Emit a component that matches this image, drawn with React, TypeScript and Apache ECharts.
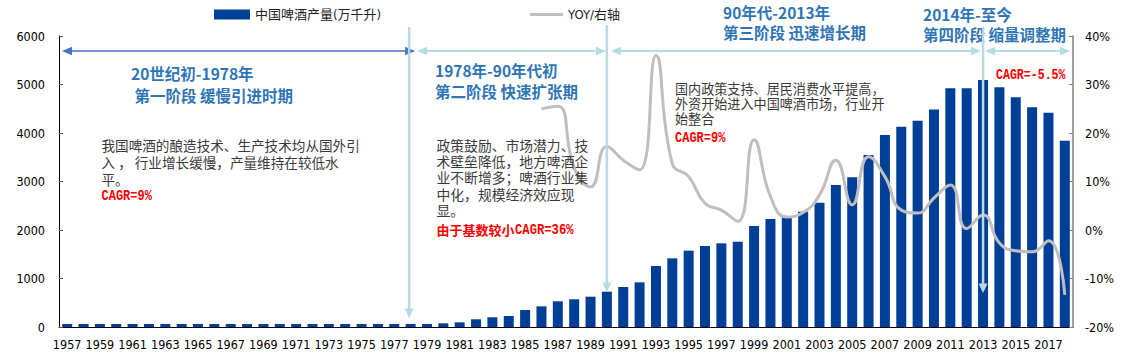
import React, { useEffect, useRef } from "react";
import * as echarts from "echarts";

const years = [
  "1957", "1958", "1959", "1960", "1961", "1962", "1963", "1964", "1965", "1966",
  "1967", "1968", "1969", "1970", "1971", "1972", "1973", "1974", "1975", "1976",
  "1977", "1978", "1979", "1980", "1981", "1982", "1983", "1984", "1985", "1986",
  "1987", "1988", "1989", "1990", "1991", "1992", "1993", "1994", "1995", "1996",
  "1997", "1998", "1999", "2000", "2001", "2002", "2003", "2004", "2005", "2006",
  "2007", "2008", "2009", "2010", "2011", "2012", "2013", "2014", "2015", "2016",
  "2017", "2018",
];

// 中国啤酒产量 (万千升)
const production = [
  4, 5, 6, 6, 5, 4, 4, 5, 6, 7,
  8, 9, 9, 10, 12, 13, 14, 15, 17, 18,
  22, 40, 60, 76, 97, 159, 200, 227, 350, 426,
  530, 571, 625, 728, 825, 921, 1258, 1416, 1574, 1670,
  1725, 1759, 2082, 2227, 2290, 2377, 2563, 2928, 3086, 3546,
  3959, 4130, 4254, 4487, 4922, 4922, 5093, 4942, 4736, 4530,
  4419, 3841,
];

// YOY (%)
const yoy = [
  null, null, null, null, null, null, null, null, null, null,
  null, null, null, null, null, null, null, null, null, null,
  null, null, null, null, null, null, null, null, null, 25,
  25.5, 12.8, 8.9, 17.2, 14.4, 12.4, 36, 13.7, 11, 5.5,
  4.1, 1.8, 18.6, 6.9, 2.7, 3.6, 7.2, 14.4, 5.2, 15.1,
  11, 4.1, 3.5, 6.6, 9.3, 0.3, 3.1, -2.7, -4.3, -4.5,
  -2.2, -13.4,
];

const leftTicks = { min: 0, max: 6000, interval: 1000 };
const rightTicks = { min: -20, max: 40, interval: 10 };

const SERIES_BAR = "中国啤酒产量(万千升)";
const SERIES_LINE = "YOY/右轴";

const stageTitles = [
  { lines: ["20世纪初-1978年", " 第一阶段 缓慢引进时期"], x: 131, y: [73, 95] },
  { lines: ["1978年-90年代初", "第二阶段 快速扩张期"], x: 435, y: [70, 91] },
  { lines: ["90年代-2013年", "第三阶段 迅速增长期"], x: 723, y: [12, 32] },
  { lines: ["2014年-至今", "第四阶段 缩量调整期"], x: 923, y: [13.5, 33.5] },
];

const notes = [
  {
    lines: ["我国啤酒的酿造技术、生产技术均从国外引", "入 ， 行业增长缓慢，产量维持在较低水", "平。"],
    x: 101.5, y0: 145, lh: 17, size: 13.6,
  },
  {
    lines: ["政策鼓励、市场潜力、技", "术壁垒降低，地方啤酒企", "业不断增多；啤酒行业集", "中化，规模经济效应现", "显。"],
    x: 436.5, y0: 145, lh: 16.2, size: 13.8,
  },
  {
    lines: ["国内政策支持、居民消费水平提高，", "外资开始进入中国啤酒市场，行业开", "始整合"],
    x: 675, y0: 88.3, lh: 15, size: 13.1,
  },
];

const TITLE_COLOR = "#2F75B5";
const PALE = "#B5DDE1";
const DARK_ARROW = "#4472C4";
const SANS = "'DejaVu Sans Condensed', 'DejaVu Sans', 'Noto Sans CJK SC', sans-serif";
const CJK = "'Noto Sans CJK SC', sans-serif";
const MONO = "'Liberation Mono', 'DejaVu Sans Mono', monospace";

function hArrow(x1: number, x2: number, y: number, color: string, lw: number) {
  const hl = 10, hw = 8.5;
  return [
    { type: "line", z: 100, shape: { x1: x1 + hl - 1, y1: y, x2: x2 - hl + 1, y2: y }, style: { stroke: color, lineWidth: lw } },
    { type: "polygon", z: 100, shape: { points: [[x1, y], [x1 + hl, y - hw / 2], [x1 + hl, y + hw / 2]] }, style: { fill: color } },
    { type: "polygon", z: 100, shape: { points: [[x2, y], [x2 - hl, y - hw / 2], [x2 - hl, y + hw / 2]] }, style: { fill: color } },
  ];
}

function vArrow(x: number, y1: number, y2: number, color: string, lw: number) {
  const hl = 9.5, hw = 9;
  return [
    { type: "line", z: 101, shape: { x1: x, y1, x2: x, y2: y2 - hl + 1 }, style: { stroke: color, lineWidth: lw } },
    { type: "polygon", z: 101, shape: { points: [[x, y2], [x - hw / 2, y2 - hl], [x + hw / 2, y2 - hl]] }, style: { fill: color } },
  ];
}

function txt(text: string, x: number, y: number, fill: string, size: number, family: string, weight: string = "normal", extra: any = {}) {
  return {
    type: "text",
    z: 102,
    x,
    y,
    ...extra,
    style: { text, fill, fontSize: size, fontFamily: family, fontWeight: weight, align: "left", verticalAlign: "middle" },
  };
}

function block(lines: string[], x: number, yFirst: number, lh: number, fill: string, size: number) {
  return {
    type: "text",
    z: 102,
    x,
    y: yFirst - lh / 2,
    style: {
      text: lines.join("\n"),
      fill,
      fontSize: size,
      fontFamily: CJK,
      lineHeight: lh,
      align: "left",
      verticalAlign: "top",
    },
  };
}

export default function App() {
  const ref = useRef<HTMLDivElement>(null);

  useEffect(() => {
    if (!ref.current) return;
    const chart = echarts.init(ref.current, null, { renderer: "svg" });
    const option: any = {
      animation: false,
      backgroundColor: "#ffffff",
      grid: { left: 59, right: 75, top: 36, bottom: 30, containLabel: false },
      legend: [
        {
          data: [SERIES_BAR],
          left: 209,
          top: 3,
          itemWidth: 36,
          itemHeight: 10,
          icon: "rect",
          textStyle: { fontSize: 13, color: "#222", fontFamily: SANS },
          selectedMode: false,
        },
        {
          data: [{ name: SERIES_LINE, icon: "rect" }],
          left: 525,
          top: 3,
          itemWidth: 33,
          itemHeight: 3,
          textStyle: { fontSize: 13, color: "#222", fontFamily: SANS },
          selectedMode: false,
        },
      ],
      xAxis: {
        type: "category",
        data: years,
        axisLine: { lineStyle: { color: "#000", width: 1 } },
        axisTick: { inside: true, length: 3, interval: 0, lineStyle: { color: "#808080" } },
        axisLabel: { interval: 1, fontSize: 12.5, color: "#000", margin: 11, fontFamily: SANS },
        splitLine: { show: false },
      },
      yAxis: [
        {
          type: "value",
          position: "left",
          min: leftTicks.min,
          max: leftTicks.max,
          interval: leftTicks.interval,
          axisLine: { show: true, lineStyle: { color: "#000" } },
          axisTick: { show: true, inside: true, length: 4, lineStyle: { color: "#555" } },
          axisLabel: { fontSize: 12.5, color: "#000", margin: 14, fontFamily: SANS, formatter: (v: number) => String(v) },
          splitLine: { show: false },
        },
        {
          type: "value",
          position: "right",
          min: rightTicks.min,
          max: rightTicks.max,
          interval: rightTicks.interval,
          axisLine: { show: true, lineStyle: { color: "#808080", width: 1.5 } },
          axisTick: { show: true, inside: true, length: 4, lineStyle: { color: "#808080" } },
          axisLabel: { fontSize: 12.5, color: "#000", margin: 12, fontFamily: SANS, formatter: "{value}%" },
          splitLine: { show: false },
        },
      ],
      series: [
        {
          name: SERIES_BAR,
          type: "bar",
          yAxisIndex: 0,
          data: production,
          barWidth: 10,
          barMinHeight: 3,
          itemStyle: { color: "#003F98" },
          z: 2,
        },
        {
          name: SERIES_LINE,
          type: "line",
          yAxisIndex: 1,
          data: yoy,
          smooth: 0.5,
          symbol: "none",
          itemStyle: { color: "#BFBFBF" },
          lineStyle: { color: "#BFBFBF", width: 3 },
          z: 3,
        },
      ],
    };
    chart.setOption(option);

    const px = (year: string) => chart.convertToPixel({ xAxisIndex: 0 }, years.indexOf(year)) as number;
    const x1978 = px("1978") - 1.5;
    const x1990 = px("1990");
    const x2013 = px("2013");
    const gridLeft = 59;
    const gridRight = 1148 - 75;
    const arrowY = 51;

    const graphics: any[] = [];
    graphics.push(...hArrow(gridLeft + 3, x1978 + 6, arrowY, DARK_ARROW, 1.5));
    graphics.push(...hArrow(x1978 + 8, x1990 - 1, arrowY, PALE, 2));
    graphics.push(...hArrow(x1990 + 4, x2013 - 2, arrowY, PALE, 2));
    graphics.push(...hArrow(x2013 + 2, gridRight - 3, arrowY, PALE, 2));

    stageTitles.forEach((t) => {
      graphics.push({
        type: "text",
        z: 99,
        x: t.x,
        y: t.y[0] - (t.y[1] - t.y[0]) / 2,
        style: {
          text: t.lines.join("\n"),
          fill: TITLE_COLOR,
          fontSize: 15.5,
          fontFamily: CJK,
          fontWeight: "bold",
          lineHeight: t.y[1] - t.y[0],
          align: "left",
          verticalAlign: "top",
        },
      });
    });

    graphics.push(...vArrow(x1978, 27, 318, PALE, 2.5));
    graphics.push(...vArrow(x1990, 25, 292, PALE, 2.5));
    graphics.push(...vArrow(x2013, 27, 293, PALE, 2.5));

    notes.forEach((n) => {
      graphics.push(block(n.lines, n.x, n.y0, n.lh, "#3A3A3A", n.size));
    });

    const redScale = { scaleY: 1.2 };
    graphics.push(txt("CAGR=9%", 101.5, 196.5, "#FF0000", 12, MONO, "bold", redScale));
    graphics.push(txt("由于基数较小", 436.5, 229.5, "#FF0000", 13, CJK, "bold"));
    graphics.push(txt("CAGR=36%", 515, 230.5, "#FF0000", 12.2, MONO, "bold", redScale));
    graphics.push(txt("CAGR=9%", 675, 138, "#FF0000", 12, MONO, "bold", redScale));
    graphics.push(txt("CAGR=-5.5%", 996, 75.5, "#FF0000", 11.6, MONO, "bold", redScale));

    chart.setOption({ graphic: { elements: graphics } });

    return () => chart.dispose();
  }, []);

  return <div ref={ref} style={{ position: "absolute", left: 0, top: 0, width: 1148, height: 357 }} />;
}
